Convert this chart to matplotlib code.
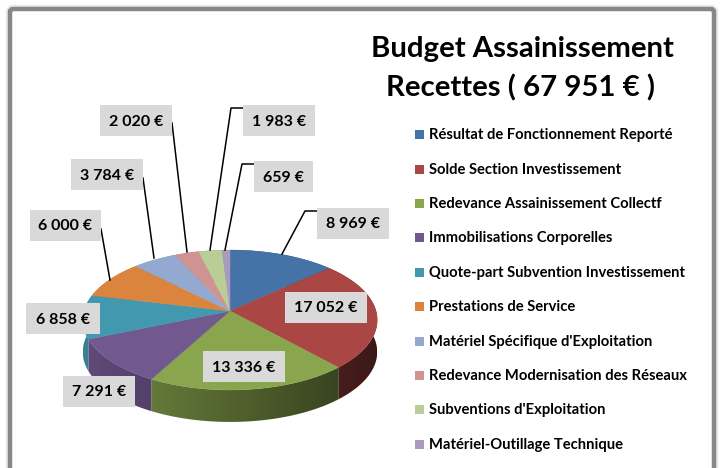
import numpy as np
import matplotlib
matplotlib.use('Agg')
import matplotlib.pyplot as plt
from matplotlib.colors import to_rgb
from matplotlib.patches import Polygon, Rectangle, FancyBboxPatch

plt.rcParams['font.family'] = ['Lato', 'DejaVu Sans']

# chart data
names = ['Résultat de Fonctionnement Reporté', 'Solde Section Investissement',
         'Redevance Assainissement Collectf', 'Immobilisations Corporelles',
         'Quote-part Subvention Investissement', 'Prestations de Service',
         "Matériel Spécifique d'Exploitation", 'Redevance Modernisation des Réseaux',
         "Subventions d'Exploitation", 'Matériel-Outillage Technique']
values = [8969, 17052, 13336, 7291, 6858, 6000, 3784, 2020, 1983, 659]
colors = ['#4572a7', '#aa4643', '#89a54e', '#71588f', '#4198af',
          '#db843d', '#93a9cf', '#d19392', '#b9cd96', '#a99bbd']

# label boxes, pixels: left, top, width
box_left = [317, 285, 203, 63, 26, 30, 71, 100, 243, 254]
box_top = [208, 292, 351, 376, 303, 210, 159, 105, 105, 161]
box_w = [72, 82, 82, 72, 74, 71, 72, 72, 72, 59]
box_h = 31

# leader lines, pixels
leaders = [[(282, 254), (305, 211), (317, 211)],
           [(187, 252), (172, 123)],
           [(154, 258), (143, 178)],
           [(110, 280), (101, 229)],
           [(210, 250), (231, 108), (243, 108)],
           [(225, 250), (242, 164), (254, 164)]]

legend_y = [135, 170, 204, 238, 273, 307, 342, 376, 410, 445]

# pie geometry: tilted disc seen with some perspective
cx, cy = 230, 311
rx, ry = 146, 68.8
persp = 0.1286
depth = 32


def project(t):
    u = np.sin(t)
    v = np.cos(t)
    w = 1 + persp * v
    return cx + rx * u / w, cy - ry * v / w


fig = plt.figure(figsize=(7.2, 4.68), dpi=100)
ax = fig.add_axes([0, 0, 1, 1])
ax.axis('off')

# chart frame
ax.add_patch(FancyBboxPatch((10, 9), 704, 480, boxstyle='round,pad=0,rounding_size=3',
                            fc='white', ec='#e8e8e8', lw=6, zorder=0))
ax.add_patch(FancyBboxPatch((10, 9), 704, 480, boxstyle='round,pad=0,rounding_size=3',
                            fc='white', ec='#878787', lw=3.2, zorder=0.1))

edges = 2 * np.pi * np.concatenate([[0], np.cumsum(values)]) / sum(values)

# side wall first, a gradient clipped to each slice, darker towards the right
ramp = np.linspace(0.85, 0.35, 256)[None, :, None]
for i in range(len(values)):
    ts = np.linspace(edges[i], edges[i + 1], 80)
    xs, ys = project(ts)
    outline = list(zip(xs, ys)) + list(zip(xs[::-1], ys[::-1] + depth))
    clip = Polygon(outline, fc='none', ec='none', transform=ax.transData)
    ax.add_patch(clip)
    rgb = ramp * np.array(to_rgb(colors[i]))[None, None, :]
    im = ax.imshow(rgb, extent=(83, 377, 430, 240), aspect='auto', zorder=1, interpolation='bilinear')
    im.set_clip_path(clip)

# top face
for i in range(len(values)):
    ts = np.linspace(edges[i], edges[i + 1], 80)
    xs, ys = project(ts)
    pts = [(cx, cy)] + list(zip(xs, ys))
    ax.add_patch(Polygon(pts, fc=colors[i], ec=colors[i], lw=0.3, zorder=2))

# leaders
for pts in leaders:
    ax.plot([p[0] for p in pts], [p[1] for p in pts], color='black', lw=1.1, zorder=3)

# value labels
for i in range(len(values)):
    ax.add_patch(Rectangle((box_left[i], box_top[i]), box_w[i], box_h, fc='#d9d9d9', ec='none', zorder=4))
    txt = f'{values[i]:,}'.replace(',', ' ') + ' €'
    ax.text(box_left[i] + box_w[i] / 2, box_top[i] + box_h / 2 + 1, txt, ha='center', va='center',
            fontsize=11.5, fontweight='bold', color='black', zorder=5)

# legend
for i in range(len(names)):
    ax.add_patch(Rectangle((415, legend_y[i] - 5), 9, 9, fc=colors[i], ec='none'))
    ax.text(429, legend_y[i], names[i], ha='left', va='center', fontsize=10.6,
            fontweight='bold', color='black')

ax.text(522, 49, 'Budget Assainissement', ha='center', va='center', fontsize=21.2, fontweight='bold')
ax.text(521, 88, 'Recettes ( 67 951 € )', ha='center', va='center', fontsize=21.2, fontweight='bold')

ax.set_xlim(0, 720)
ax.set_ylim(468, 0)

fig.savefig('out.png', dpi=100)
